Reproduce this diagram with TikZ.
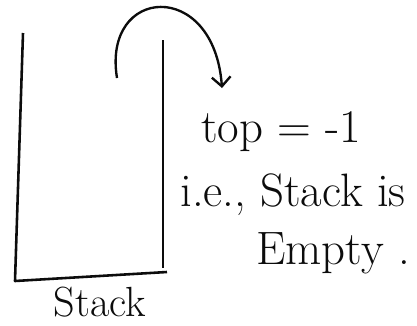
\documentclass[tikz,border=0pt]{standalone}
\usepackage{xcolor}
\usepackage{tikz}
\usetikzlibrary{arrows.meta}
\definecolor{ink}{RGB}{12,12,12}

\begin{document}
\begin{tikzpicture}[x=0.03cm,y=-0.03cm]
  \useasboundingbox[fill=white] (0,0) rectangle (417,325);
  % stack container
  \draw[ink, line width=2.2pt, line join=round] (23,33) -- (15,281) -- (167,272);
  \draw[ink, line width=2.2pt] (163,40) -- (163,268);
  \coordinate (curlstart) at (117,78);
  \node[anchor=center, text=ink, font=\fontsize{40}{44}\selectfont] (topval) at (281,132) {top = -1};
  \node[anchor=center, text=ink, font=\fontsize{40}{44}\selectfont] (ienote) at (293,195) {i.e., Stack is};
  \node[anchor=center, text=ink, font=\fontsize{40}{44}\selectfont] (empty) at (333,253) {Empty .};
  \node[anchor=base, text=ink, font=\fontsize{36}{40}\selectfont] (label) at (100,316) {Stack};
  \draw[ink, line width=2pt, -{Straight Barb[length=8pt, width=16pt]}]
    (curlstart) .. controls (102,-14) and (214,-22) .. (222,88);
\end{tikzpicture}
\end{document}
